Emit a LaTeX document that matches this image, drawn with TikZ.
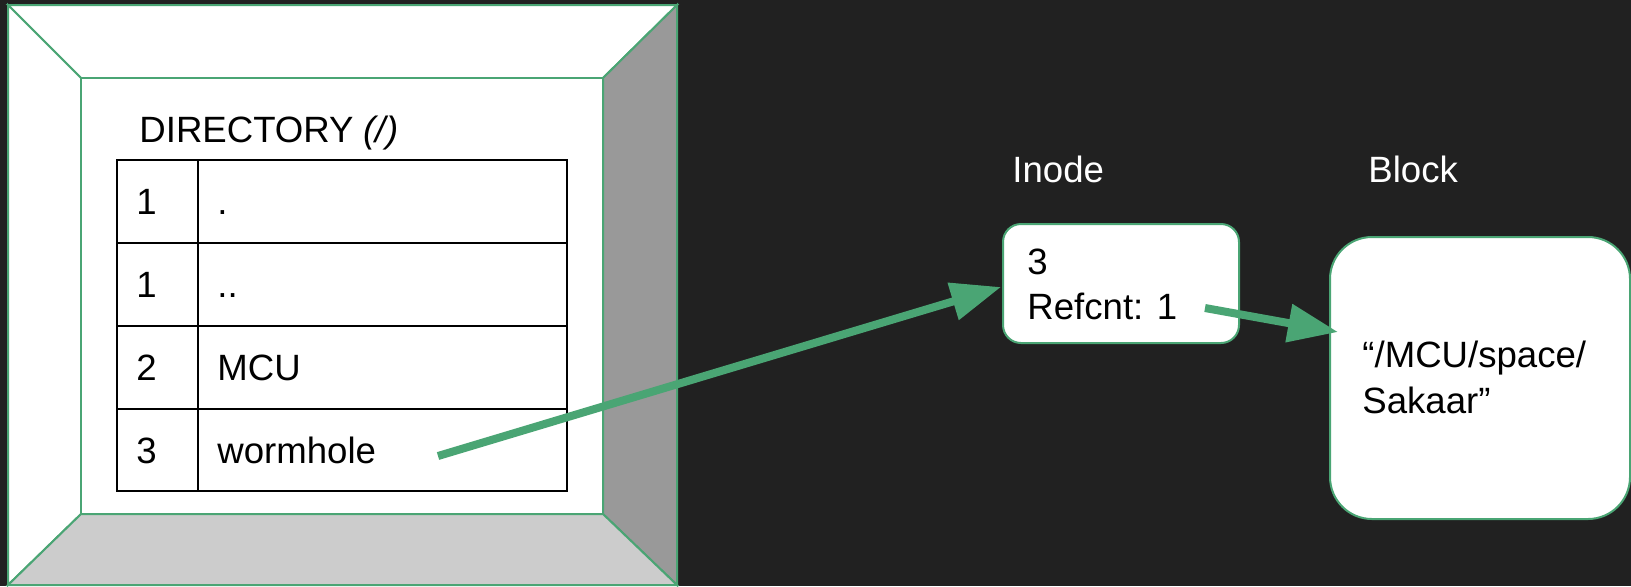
\documentclass[tikz,border=0pt]{standalone}
\usepackage{fontspec}
\setmainfont{Liberation Sans}
\usetikzlibrary{arrows.meta}
\definecolor{bgdark}{HTML}{212121}
\definecolor{leaf}{HTML}{4AA574}
\definecolor{wallside}{HTML}{999999}
\definecolor{wallfloor}{HTML}{CCCCCC}
\tikzset{
  lbl/.style={anchor=base west, inner sep=0pt, font=\fontsize{18.3}{22}\selectfont, text=black},
  darklbl/.style={lbl, text=white},
  wall/.style={draw=leaf, line width=1pt, line join=miter},
  rbox/.style={draw=leaf, fill=white, line width=1pt, anchor=north west, inner sep=0pt},
  grid/.style={draw=black, line width=1pt},
  flow/.style={draw=leaf, line width=4pt, -{Triangle[length=25pt,width=18.5pt]}, shorten >=0pt}
}
\begin{document}
\begin{tikzpicture}[x=0.5pt, y=-0.5pt]
  % canvas
  \fill[bgdark] (0,0) rectangle (1631,586);
  \useasboundingbox (0,0) rectangle (1631,586);

  % bevelled frame around the directory
  \coordinate (o1) at (8,5);   \coordinate (o2) at (677,5);
  \coordinate (o3) at (677,585); \coordinate (o4) at (8,585);
  \coordinate (i1) at (81,78);  \coordinate (i2) at (603,78);
  \coordinate (i3) at (603,514); \coordinate (i4) at (81,514);
  \path[wall, fill=white] (o1) -- (o2) -- (i2) -- (i1) -- cycle;
  \path[wall, fill=white] (o1) -- (i1) -- (i4) -- (o4) -- cycle;
  \path[wall, fill=wallside] (o2) -- (o3) -- (i3) -- (i2) -- cycle;
  \path[wall, fill=wallfloor] (o4) -- (i4) -- (i3) -- (o3) -- cycle;
  \path[wall, fill=white] (i1) rectangle (i3);

  % directory table
  \node[lbl] (dirtitle) at (139,142) {DIRECTORY \textit{(/)}};
  \draw[grid] (117,160) rectangle (567,491);
  \draw[grid] (198,160) -- (198,491);
  \foreach \y in {243,326,409} \draw[grid] (117,\y) -- (567,\y);
  \node[lbl] (n1) at (136,214) {1};  \node[lbl] (e1) at (217,214) {.};
  \node[lbl] (n2) at (136,297) {1};  \node[lbl] (e2) at (217,297) {..};
  \node[lbl] (n3) at (136,380) {2};  \node[lbl] (e3) at (217,380) {MCU};
  \node[lbl] (n4) at (136,463) {3};  \node[lbl] (e4) at (217,463) {wormhole};

  % inode
  \node[darklbl] (inodetitle) at (1012,182) {Inode};
  \node[rbox, rounded corners=9pt, minimum width=118pt, minimum height=59.5pt] (inode) at (1002,223) {};
  \node[lbl] (inum) at (1027,274) {3};
  \node[lbl] (iref) at (1027,319) {Refcnt: 1};

  % data block
  \node[darklbl] (blocktitle) at (1368,182) {Block};
  \node[rbox, rounded corners=21pt, minimum width=150pt, minimum height=141pt] (block) at (1329,236) {};
  \node[lbl] (bl1) at (1362,367) {“/MCU/space/};
  \node[lbl] (bl2) at (1362,413) {Sakaar”};

  % links
  \coordinate (wtail) at (438,456);
  \coordinate (itip) at (1001,287);
  \coordinate (rtail) at (1205,308);
  \coordinate (btip) at (1338,332);
  \draw[flow] (wtail) -- (itip);
  \draw[flow] (rtail) -- (btip);
\end{tikzpicture}
\end{document}
